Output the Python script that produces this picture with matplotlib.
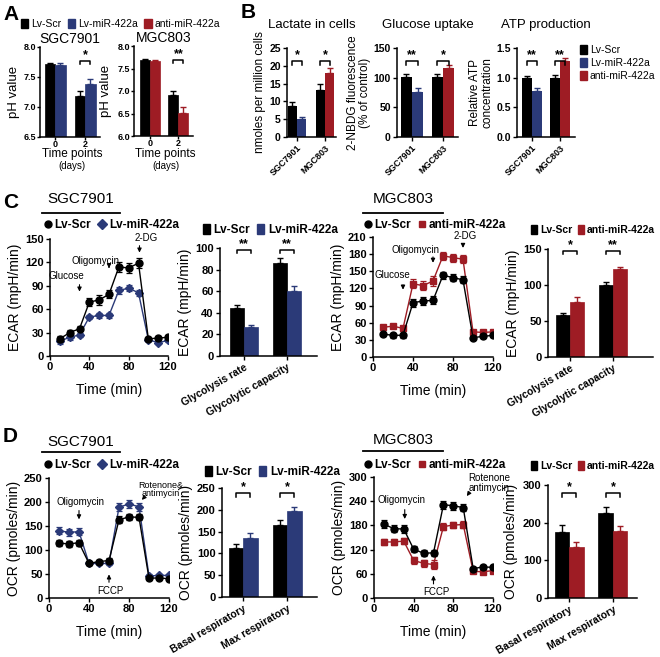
import matplotlib
matplotlib.use("Agg")
import matplotlib.pyplot as plt
from matplotlib.patches import Patch
from matplotlib.lines import Line2D
import numpy as np

plt.rcParams['font.family'] = ['Liberation Sans', 'DejaVu Sans']
plt.rcParams['axes.linewidth'] = 1.1

BLACK = '#000000'
BLUE = '#2b3a78'
RED = '#9e1c24'

# ---------------- DATA ----------------
# Panel A (pH)
a_days = ['0', '2']
a_sgc_scr = [7.71, 7.18]; a_sgc_scr_err = [0.03, 0.08]
a_sgc_mir = [7.70, 7.38]; a_sgc_mir_err = [0.04, 0.08]
a_mgc_scr = [7.69, 6.91]; a_mgc_scr_err = [0.03, 0.08]
a_mgc_anti = [7.66, 6.51]; a_mgc_anti_err = [0.02, 0.13]

# Panel B
b_cells = ['SGC7901', 'MGC803']
b_lac_scr = [8.6, 13.1]; b_lac_scr_err = [1.2, 1.8]
b_lac_trt = [5.0, 17.9]; b_lac_trt_err = [0.5, 1.6]
b_glu_scr = [101, 101]; b_glu_scr_err = [5, 5]
b_glu_trt = [76, 117]; b_glu_trt_err = [6, 5]
b_atp_scr = [1.00, 0.99]; b_atp_scr_err = [0.03, 0.05]
b_atp_trt = [0.78, 1.28]; b_atp_trt_err = [0.04, 0.05]

# Time axis for Seahorse traces
time_min = [10, 20, 30, 40, 50, 60, 70, 80, 90, 100, 110, 120]

# Panel C - ECAR
c_sgc_scr = [22, 30, 35, 69, 72, 79, 114, 113, 119, 22, 23, 24]
c_sgc_scr_err = [4, 3, 3, 5, 6, 5, 6, 6, 6, 3, 3, 3]
c_sgc_mir = [19, 24, 27, 50, 52, 52, 84, 87, 81, 21, 17, 20]
c_sgc_mir_err = [3, 3, 3, 3, 3, 3, 4, 4, 4, 2, 2, 2]
c_mgc_scr = [40, 38, 38, 95, 98, 99, 143, 139, 135, 34, 36, 38]
c_mgc_scr_err = [3, 4, 4, 7, 7, 7, 6, 6, 6, 3, 3, 3]
c_mgc_anti = [52, 54, 50, 128, 125, 133, 177, 174, 171, 44, 43, 44]
c_mgc_anti_err = [3, 3, 3, 8, 8, 8, 7, 7, 7, 3, 3, 3]
c_cats = ['Glycolysis rate', 'Glycolytic capacity']
c_sgc_bar_scr = [44, 86]; c_sgc_bar_scr_err = [3, 5]
c_sgc_bar_mir = [27, 60]; c_sgc_bar_mir_err = [2, 5]
c_mgc_bar_scr = [58, 100]; c_mgc_bar_scr_err = [3, 4]
c_mgc_bar_anti = [77, 122]; c_mgc_bar_anti_err = [7, 3]

# Panel D - OCR
d_sgc_scr = [114, 113, 115, 72, 76, 78, 163, 169, 168, 41, 42, 40]
d_sgc_scr_err = [6, 6, 6, 4, 4, 5, 7, 6, 6, 3, 3, 3]
d_sgc_mir = [140, 137, 138, 72, 72, 72, 189, 196, 190, 46, 47, 47]
d_sgc_mir_err = [7, 7, 7, 4, 3, 4, 8, 8, 8, 4, 4, 4]
d_mgc_scr = [183, 172, 171, 121, 111, 112, 231, 229, 224, 73, 77, 76]
d_mgc_scr_err = [10, 9, 10, 7, 8, 8, 10, 10, 9, 4, 4, 4]
d_mgc_anti = [139, 139, 141, 93, 86, 83, 177, 181, 182, 66, 65, 68]
d_mgc_anti_err = [8, 8, 8, 8, 9, 10, 9, 8, 8, 5, 5, 5]
d_cats = ['Basal respiratory', 'Max respiratory']
d_sgc_bar_scr = [113, 165]; d_sgc_bar_scr_err = [8, 11]
d_sgc_bar_mir = [136, 198]; d_sgc_bar_mir_err = [11, 9]
d_mgc_bar_scr = [175, 226]; d_mgc_bar_scr_err = [18, 16]
d_mgc_bar_anti = [135, 178]; d_mgc_bar_anti_err = [13, 14]

# ---------------- LAYOUT ----------------
W, H = 660, 657
fig = plt.figure(figsize=(W / 100, H / 100), dpi=100)


def rect(l, t, r, b):
    return [l / W, 1 - b / H, (r - l) / W, (b - t) / H]


def fx(x):
    return x / W


def fy(y):
    return 1 - y / H


def style(ax, fs=7.5):
    for s in ['top', 'right']:
        ax.spines[s].set_visible(False)
    ax.tick_params(direction='out', length=3, width=1.0, labelsize=fs, pad=1.5)
    for lab in ax.get_xticklabels() + ax.get_yticklabels():
        lab.set_fontweight('bold')


def bars(ax, x, scr, scr_err, trt, trt_err, color, w):
    x = np.asarray(x, dtype=float)
    ax.bar(x - w / 2, scr, w, color=BLACK, edgecolor=BLACK, linewidth=0.5)
    ax.bar(x + w / 2, trt, w, color=color, edgecolor=color, linewidth=0.5)
    ax.errorbar(x - w / 2, scr, yerr=[np.zeros(len(scr)), scr_err], fmt='none',
                ecolor=BLACK, capsize=2, elinewidth=1, capthick=1)
    ax.errorbar(x + w / 2, trt, yerr=[np.zeros(len(trt)), trt_err], fmt='none',
                ecolor=color, capsize=2, elinewidth=1, capthick=1)


def sig(ax, xc, w, y, h, txt, fs=9):
    x1, x2 = xc - w / 2, xc + w / 2
    ax.plot([x1, x1, x2, x2], [y - h, y, y, y - h], color='black', lw=1.1,
            clip_on=False)
    ax.text(xc, y, txt, ha='center', va='bottom', fontsize=fs, fontweight='bold',
            clip_on=False)


def panel_letter(x, y, s):
    fig.text(fx(x), fy(y), s, fontsize=15, fontweight='bold', ha='left', va='center')


# ---------------- Panel A ----------------
panel_letter(3, 14, 'A')
fig.legend([Patch(color=BLACK), Patch(color=BLUE), Patch(color=RED)],
           ['Lv-Scr', 'Lv-miR-422a', 'anti-miR-422a'], loc='center left',
           bbox_to_anchor=(fx(21), fy(24)), ncol=3, frameon=False, fontsize=7.5,
           handlelength=0.7, handleheight=0.9, handletextpad=0.3, columnspacing=0.6,
           borderpad=0, borderaxespad=0)


def apanel(rc, xl, xr, w, scr, scr_err, trt, trt_err, color, ylim, yticks, title,
           label_x, sig_y, sig_h, stars):
    l, t, r, b = rc
    ax = fig.add_axes(rect(*rc))
    bars(ax, [0, 1], scr, scr_err, trt, trt_err, color, w)
    ax.set_ylim(*ylim); ax.set_yticks(yticks)
    ax.set_yticklabels(['%.1f' % v for v in yticks])
    ax.set_xlim(xl, xr); ax.set_xticks([0, 1]); ax.set_xticklabels(a_days)
    ax.set_ylabel('pH value', fontsize=9.5)
    ax.yaxis.set_label_coords((label_x - l) / (r - l), 0.5)
    ax.set_title(title, fontsize=10, pad=3)
    style(ax, 6.5)
    ax.tick_params(axis='y', length=2, pad=1)
    ax.tick_params(axis='x', length=2, pad=0.5)
    sig(ax, 1, w, sig_y, sig_h, stars)
    xc = (l + r) / 2 + 2
    fig.text(fx(xc), fy(154), 'Time points', ha='center', va='center', fontsize=8.5)
    fig.text(fx(xc), fy(166), '(days)', ha='center', va='center', fontsize=7)
    return ax


apanel((40, 47, 100, 137), -0.5, 1.5, 0.35, a_sgc_scr, a_sgc_scr_err, a_sgc_mir,
       a_sgc_mir_err, BLUE, (6.5, 8.0), [6.5, 7.0, 7.5, 8.0], 'SGC7901', 20,
       7.77, 0.05, '*')
apanel((134, 46, 193, 136), -0.57, 1.52, 0.36, a_mgc_scr, a_mgc_scr_err, a_mgc_anti,
       a_mgc_anti_err, RED, (6.0, 8.0), [6.0, 6.5, 7.0, 7.5, 8.0], 'MGC803', 112,
       7.69, 0.07, '**')

# ---------------- Panel B ----------------
panel_letter(241, 12, 'B')


def bpanel(l, r, xl, xr, w, scr, scr_err, trt, trt_err, ylim, yticks, ylabel,
           title, sig_y, sig_h, stars, fmt=None):
    ax = fig.add_axes(rect(l, 48, r, 137))
    x = np.arange(2)
    ax.bar(x[0] - w / 2, scr[0], w, color=BLACK)
    ax.bar(x[1] - w / 2, scr[1], w, color=BLACK)
    ax.bar(x[0] + w / 2, trt[0], w, color=BLUE)
    ax.bar(x[1] + w / 2, trt[1], w, color=RED)
    ax.errorbar(x - w / 2, scr, yerr=[np.zeros(2), scr_err], fmt='none', ecolor=BLACK,
                capsize=2, elinewidth=1, capthick=1)
    ax.errorbar([x[0] + w / 2], [trt[0]], yerr=[[0], [trt_err[0]]], fmt='none',
                ecolor=BLUE, capsize=2, elinewidth=1, capthick=1)
    ax.errorbar([x[1] + w / 2], [trt[1]], yerr=[[0], [trt_err[1]]], fmt='none',
                ecolor=RED, capsize=2, elinewidth=1, capthick=1)
    ax.set_ylim(*ylim); ax.set_yticks(yticks)
    if fmt:
        ax.set_yticklabels([fmt % t for t in yticks])
    ax.set_xlim(xl, xr); ax.set_xticks(x)
    ax.set_xticklabels(b_cells, rotation=45, ha='right', rotation_mode='anchor',
                       fontsize=6.5)
    ax.set_ylabel(ylabel, fontsize=8.5, labelpad=2, linespacing=1.0)
    fig.text(fx((l + r) / 2), fy(25), title, ha='center', va='center', fontsize=9.5)
    style(ax, 7.5)
    for lab in ax.get_xticklabels():
        lab.set_fontsize(6.5)
    for i in range(2):
        sig(ax, x[i], w, sig_y, sig_h, stars[i])
    return ax


bpanel(287, 336, -0.36, 1.39, 0.33, b_lac_scr, b_lac_scr_err, b_lac_trt, b_lac_trt_err,
       (0, 25), [0, 5, 10, 15, 20, 25], 'nmoles per million cells', 'Lactate in cells',
       21.3, 1.0, ['*', '*'])
bpanel(397, 458, -0.48, 1.48, 0.36, b_glu_scr, b_glu_scr_err, b_glu_trt, b_glu_trt_err,
       (0, 150), [0, 50, 100, 150], '2-NBDG fluorescence\n(% of control)',
       'Glucose uptake', 128, 6, ['**', '*'])
bpanel(517, 575, -0.54, 1.54, 0.36, b_atp_scr, b_atp_scr_err, b_atp_trt, b_atp_trt_err,
       (0, 1.5), [0, 0.5, 1.0, 1.5], 'Relative ATP\nconcentration',
       'ATP production', 1.28, 0.06, ['**', '**'], fmt='%.1f')
fig.legend([Patch(color=BLACK), Patch(color=BLUE), Patch(color=RED)],
           ['Lv-Scr', 'Lv-miR-422a', 'anti-miR-422a'], loc='upper left',
           bbox_to_anchor=(fx(580), fy(45)), ncol=1, frameon=False, fontsize=7.5,
           handlelength=0.7, handleheight=0.9, handletextpad=0.25, labelspacing=0.3,
           borderpad=0, borderaxespad=0)


# ---------------- Line plot helper ----------------
def trace(rc, scr, scr_err, trt, trt_err, color, marker, ylim, yticks, ylabel):
    ax = fig.add_axes(rect(*rc))
    ax.errorbar(time_min, scr, yerr=scr_err, color=BLACK, marker='o', markersize=5,
                lw=1.0, capsize=2, elinewidth=0.9, capthick=0.9, zorder=3)
    ms = 4.5 if marker == 'D' else 5
    ax.errorbar(time_min, trt, yerr=trt_err, color=color, marker=marker, markersize=ms,
                lw=1.0, capsize=2, elinewidth=0.9, capthick=0.9, zorder=2)
    ax.set_xlim(0, 120); ax.set_xticks([0, 40, 80, 120])
    ax.set_ylim(*ylim); ax.set_yticks(yticks)
    ax.set_ylabel(ylabel, fontsize=10, labelpad=2)
    ax.set_xlabel('Time (min)', fontsize=10, labelpad=8)
    style(ax, 8)
    return ax


def arrow(ax, txt, tx, ty, x0, y0, x1, y1, fs=7):
    ax.annotate('', xy=(x1, y1), xytext=(x0, y0),
                arrowprops=dict(arrowstyle='-|>', color='black', lw=0.8,
                                mutation_scale=6), annotation_clip=False)
    if txt:
        ax.text(tx, ty, txt, ha='center', va='center', fontsize=fs, clip_on=False,
                linespacing=0.9)


def title_line(xc, y, yline, x0, x1, s):
    fig.text(fx(xc), fy(y), s, ha='center', va='center', fontsize=11)
    fig.add_artist(Line2D([fx(x0), fx(x1)], [fy(yline), fy(yline)], color='black',
                          lw=1.3, transform=fig.transFigure))


def line_legend(x, y, color, marker, label):
    fig.legend([Line2D([], [], color=BLACK, marker='o', ls='none', markersize=5),
                Line2D([], [], color=color, marker=marker, ls='none', markersize=5)],
               ['Lv-Scr', label], loc='center left', bbox_to_anchor=(fx(x), fy(y)),
               ncol=2, frameon=False, prop=dict(size=8.5, weight='bold'),
               handlelength=0.6, handletextpad=0.3, columnspacing=0.6, borderpad=0,
               borderaxespad=0)


def bar_legend(x, y, color, label, fs=8.5, cs=0.6):
    fig.legend([Patch(color=BLACK), Patch(color=color)], ['Lv-Scr', label],
               loc='center left', bbox_to_anchor=(fx(x), fy(y)), ncol=2, frameon=False,
               prop=dict(size=fs, weight='bold'), handlelength=0.6, handleheight=0.9,
               handletextpad=0.3, columnspacing=cs, borderpad=0, borderaxespad=0)


def sbar(rc, xl, xr, w, scr, scr_err, trt, trt_err, color, ylim, yticks, ylabel, cats,
         sig_y, sig_h, stars, label_x):
    l, t, r, b = rc
    ax = fig.add_axes(rect(*rc))
    bars(ax, [0, 1], scr, scr_err, trt, trt_err, color, w)
    ax.set_xlim(xl, xr); ax.set_xticks([0, 1])
    ax.set_xticklabels(cats, rotation=30, ha='right', rotation_mode='anchor')
    ax.set_ylim(*ylim); ax.set_yticks(yticks)
    ax.set_ylabel(ylabel, fontsize=10)
    ax.yaxis.set_label_coords((label_x - l) / (r - l), 0.5)
    style(ax, 8)
    for lab in ax.get_xticklabels():
        lab.set_fontsize(7.5)
    for i in range(2):
        sig(ax, i, w, sig_y, sig_h, stars[i])
    return ax


# ---------------- Panel C ----------------
panel_letter(3, 203, 'C')
title_line(81, 199, 213, 42, 120, 'SGC7901')
title_line(403, 199, 213, 363, 443, 'MGC803')
line_legend(44, 225, BLUE, 'D', 'Lv-miR-422a')
line_legend(364, 225, RED, 's', 'anti-miR-422a')
bar_legend(203, 230, BLUE, 'Lv-miR-422a')
bar_legend(531, 230, RED, 'anti-miR-422a', fs=7.5, cs=0.5)

ax = trace((50, 239, 168, 356), c_sgc_scr, c_sgc_scr_err, c_sgc_mir, c_sgc_mir_err,
           BLUE, 'D', (0, 150), [0, 30, 60, 90, 120, 150], 'ECAR (mpH/min)')
arrow(ax, 'Glucose', 17, 103, 30, 95, 30, 79)
arrow(ax, 'Oligomycin', 46, 122, 60, 118, 60, 109)
arrow(ax, '2-DG', 98, 151, 91, 145, 91, 129)

sbar((220, 248, 317, 356), -0.56, 1.70, 0.33, c_sgc_bar_scr, c_sgc_bar_scr_err,
     c_sgc_bar_mir, c_sgc_bar_mir_err, BLUE, (0, 100), [0, 20, 40, 60, 80, 100],
     'ECAR (mpH/min)', c_cats, 98, 3, ['**', '**'], 192)

ax = trace((373, 237, 493, 357), c_mgc_scr, c_mgc_scr_err, c_mgc_anti, c_mgc_anti_err,
           RED, 's', (0, 210), [0, 30, 60, 90, 120, 150, 180, 210], 'ECAR (mpH/min)')
arrow(ax, 'Glucose', 19, 143, 30, 131, 30, 113)
arrow(ax, 'Oligomycin', 42, 187, 60, 180, 60, 160)
arrow(ax, '2-DG', 92, 211, 90, 202, 90, 186)

sbar((548, 249, 653, 357), -0.51, 1.93, 0.33, c_mgc_bar_scr, c_mgc_bar_scr_err,
     c_mgc_bar_anti, c_mgc_bar_anti_err, RED, (0, 150), [0, 50, 100, 150],
     'ECAR (mpH/min)', c_cats, 147, 4, ['*', '**'], 520)

# ---------------- Panel D ----------------
panel_letter(3, 437, 'D')
title_line(81, 442, 452, 42, 120, 'SGC7901')
title_line(403, 440, 451, 363, 443, 'MGC803')
line_legend(44, 465, BLUE, 'D', 'Lv-miR-422a')
line_legend(364, 465, RED, 's', 'anti-miR-422a')
bar_legend(205, 472, BLUE, 'Lv-miR-422a')
bar_legend(531, 466, RED, 'anti-miR-422a', fs=7.5, cs=0.5)

ax = trace((49, 478, 169, 598), d_sgc_scr, d_sgc_scr_err, d_sgc_mir, d_sgc_mir_err,
           BLUE, 'D', (0, 250), [0, 50, 100, 150, 200, 250], 'OCR (pmoles/min)')
arrow(ax, 'Oligomycin', 31, 200, 30, 188, 30, 158)
arrow(ax, 'FCCP', 61, 15, 60, 27, 60, 55)
arrow(ax, 'Rotenone&\nantimycin', 112, 226, 97, 214, 91, 200, fs=6.5)

sbar((222, 488, 317, 597), -0.48, 1.68, 0.33, d_sgc_bar_scr, d_sgc_bar_scr_err,
     d_sgc_bar_mir, d_sgc_bar_mir_err, BLUE, (0, 250), [0, 50, 100, 150, 200, 250],
     'OCR (pmoles/min)', d_cats, 238, 8, ['*', '*'], 193)

ax = trace((374, 477, 493, 598), d_mgc_scr, d_mgc_scr_err, d_mgc_anti, d_mgc_anti_err,
           RED, 's', (0, 300), [0, 60, 120, 180, 240, 300], 'OCR (pmoles/min)')
arrow(ax, 'Oligomycin', 28, 243, 31, 226, 31, 189)
arrow(ax, 'FCCP', 63, 15, 60, 28, 60, 63)
arrow(ax, 'Rotenone\nantimycin', 116, 285, 98, 268, 92, 247)

sbar((548, 485, 637, 598), -0.48, 1.55, 0.33, d_mgc_bar_scr, d_mgc_bar_scr_err,
     d_mgc_bar_anti, d_mgc_bar_anti_err, RED, (0, 300), [0, 100, 200, 300],
     'OCR (pmoles/min)', d_cats, 279, 10, ['*', '*'], 518)

fig.savefig('out.png', dpi=100)
